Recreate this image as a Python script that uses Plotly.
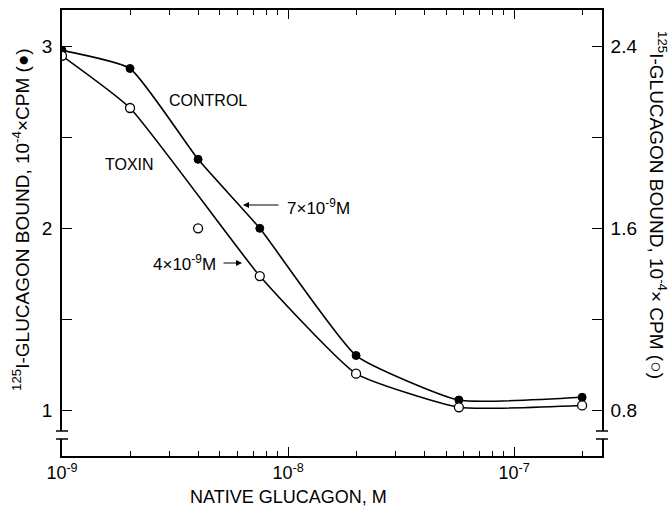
import plotly.graph_objects as go

# ---------------- data ----------------
concentration_M = [1e-9, 2e-9, 4e-9, 7.5e-9, 2e-8, 5.7e-8, 2e-7]
control_bound = [2.98, 2.88, 2.38, 2.00, 1.30, 1.055, 1.07]      # 10^-4 x CPM (left axis, filled)
toxin_bound = [2.36, 2.13, 1.60, 1.39, 0.96, 0.812, 0.82]        # 10^-4 x CPM (right axis, open)
toxin_on_curve = [True, True, False, True, True, True, True]

x_tick_vals = [1e-9, 1e-8, 1e-7]
x_tick_text = ["10<sup>-9</sup>", "10<sup>-8</sup>", "10<sup>-7</sup>"]
left_tick_vals = [1, 1.5, 2, 2.5, 3]
left_tick_text = ["1", "", "2", "", "3"]
right_tick_vals = [0.8, 1.2, 1.6, 2.0, 2.4]
right_tick_text = ["0.8", "", "1.6", "", "2.4"]

# ---------------- layout geometry ----------------
W, H = 671, 513
L, R, T, B = 62, 69, 10, 57
PW, PH = W - L - R, H - T - B
X_RANGE = [-9, -6.611]
Y_RANGE = [0.7468, 3.202]
Y2_RANGE = [v * 0.8 for v in Y_RANGE]
BREAK_Y = [0.8404, 0.8844]
FONT = "Liberation Sans, Arial, sans-serif"

minor_vals = [k * 10.0 ** e for e in (-9, -8, -7) for k in range(2, 10)
              if k * 10.0 ** e < 10 ** X_RANGE[1]]


def px(xp):
    return (xp - L) / PW


def py(yp):
    return (H - B - yp) / PH


fig = go.Figure()

# control curve + points
fig.add_trace(go.Scatter(
    x=concentration_M, y=control_bound, mode="lines",
    line=dict(color="black", width=1.6, shape="spline", smoothing=0.45),
    hoverinfo="skip", showlegend=False))
fig.add_trace(go.Scatter(
    x=concentration_M, y=control_bound, mode="markers",
    marker=dict(symbol="circle", size=8, color="black",
                line=dict(color="black", width=1)),
    name="Control", showlegend=False))

# toxin curve + points (right axis)
tx = [c for c, k in zip(concentration_M, toxin_on_curve) if k]
ty = [v for v, k in zip(toxin_bound, toxin_on_curve) if k]
fig.add_trace(go.Scatter(
    x=tx, y=ty, mode="lines", xaxis="x2", yaxis="y2",
    line=dict(color="black", width=1.6, shape="spline", smoothing=0.45),
    hoverinfo="skip", showlegend=False))
fig.add_trace(go.Scatter(
    x=concentration_M, y=toxin_bound, mode="markers", xaxis="x2", yaxis="y2",
    marker=dict(symbol="circle", size=9, color="white",
                line=dict(color="black", width=1.3)),
    name="Toxin", showlegend=False))

axis_common = dict(showline=True, linecolor="black", linewidth=1.6,
                   ticks="inside", tickcolor="black", tickwidth=1.4,
                   showgrid=False, zeroline=False)
minor_common = dict(tickvals=minor_vals, ticks="inside", ticklen=5,
                    tickcolor="black", tickwidth=1.2)

fig.update_layout(
    width=W, height=H,
    margin=dict(l=L, r=R, t=T, b=B),
    paper_bgcolor="white", plot_bgcolor="white",
    font=dict(family=FONT, color="black", size=17),
    xaxis=dict(type="log", range=X_RANGE, tickvals=x_tick_vals,
               ticktext=x_tick_text, ticklen=9, tickfont=dict(size=18),
               minor=minor_common, **axis_common),
    xaxis2=dict(type="log", range=X_RANGE, tickvals=x_tick_vals,
                ticktext=["", "", ""], ticklen=9, overlaying="x",
                side="top", anchor="y2", showticklabels=False,
                minor=minor_common, **axis_common),
    yaxis=dict(range=Y_RANGE, tickvals=left_tick_vals, ticktext=left_tick_text,
               ticklen=10, tickfont=dict(size=19), ticklabelstandoff=4,
               **axis_common),
    yaxis2=dict(range=Y2_RANGE, overlaying="y", side="right", anchor="x",
                tickvals=right_tick_vals, ticktext=right_tick_text,
                ticklen=10, tickfont=dict(size=19), ticklabelstandoff=3,
                **axis_common),
)

# axis breaks on both vertical axes
shapes = []
for xa in (0, 1):
    shapes.append(dict(type="line", xref="paper", yref="y", layer="above",
                       xsizemode="pixel", xanchor=xa, x0=0, x1=0,
                       y0=BREAK_Y[0], y1=BREAK_Y[1],
                       line=dict(color="white", width=5)))
    for yb in BREAK_Y:
        shapes.append(dict(type="line", xref="paper", yref="y", layer="above",
                           xsizemode="pixel", xanchor=xa, x0=-6, x1=6,
                           y0=yb, y1=yb, line=dict(color="black", width=1.5)))
fig.update_layout(shapes=shapes)


def label(text, xp, yp, size, angle=0):
    return dict(text=text, xref="paper", yref="paper", x=px(xp), y=py(yp),
                xanchor="center", yanchor="middle", textangle=angle,
                showarrow=False, font=dict(size=size))


ann = [
    label("NATIVE GLUCAGON, M", 288, 497, 18),
    label("<sup>125</sup>I-GLUCAGON BOUND, 10<sup>-4</sup>×CPM (●)", 21, 220, 19, -90),
    label("<sup>125</sup>I-GLUCAGON BOUND, 10<sup>-4</sup>× CPM (○)", 658, 205, 19, 90),
    label("CONTROL", 208, 100, 16),
    label("TOXIN", 129, 164, 16),
    label("7×10<sup>-9</sup>M", 318, 207, 17),
    label("4×10<sup>-9</sup>M", 184, 263, 17),
]
# arrows
ann.append(dict(text="", xref="paper", yref="paper", x=px(243), y=py(205),
                ax=37, ay=0, showarrow=True, arrowhead=2, arrowsize=1,
                arrowwidth=1.2, arrowcolor="black"))
ann.append(dict(text="", xref="paper", yref="paper", x=px(242), y=py(263),
                ax=-20, ay=0, showarrow=True, arrowhead=2, arrowsize=1,
                arrowwidth=1.2, arrowcolor="black"))
fig.update_layout(annotations=ann)

fig.write_html("out.html")
